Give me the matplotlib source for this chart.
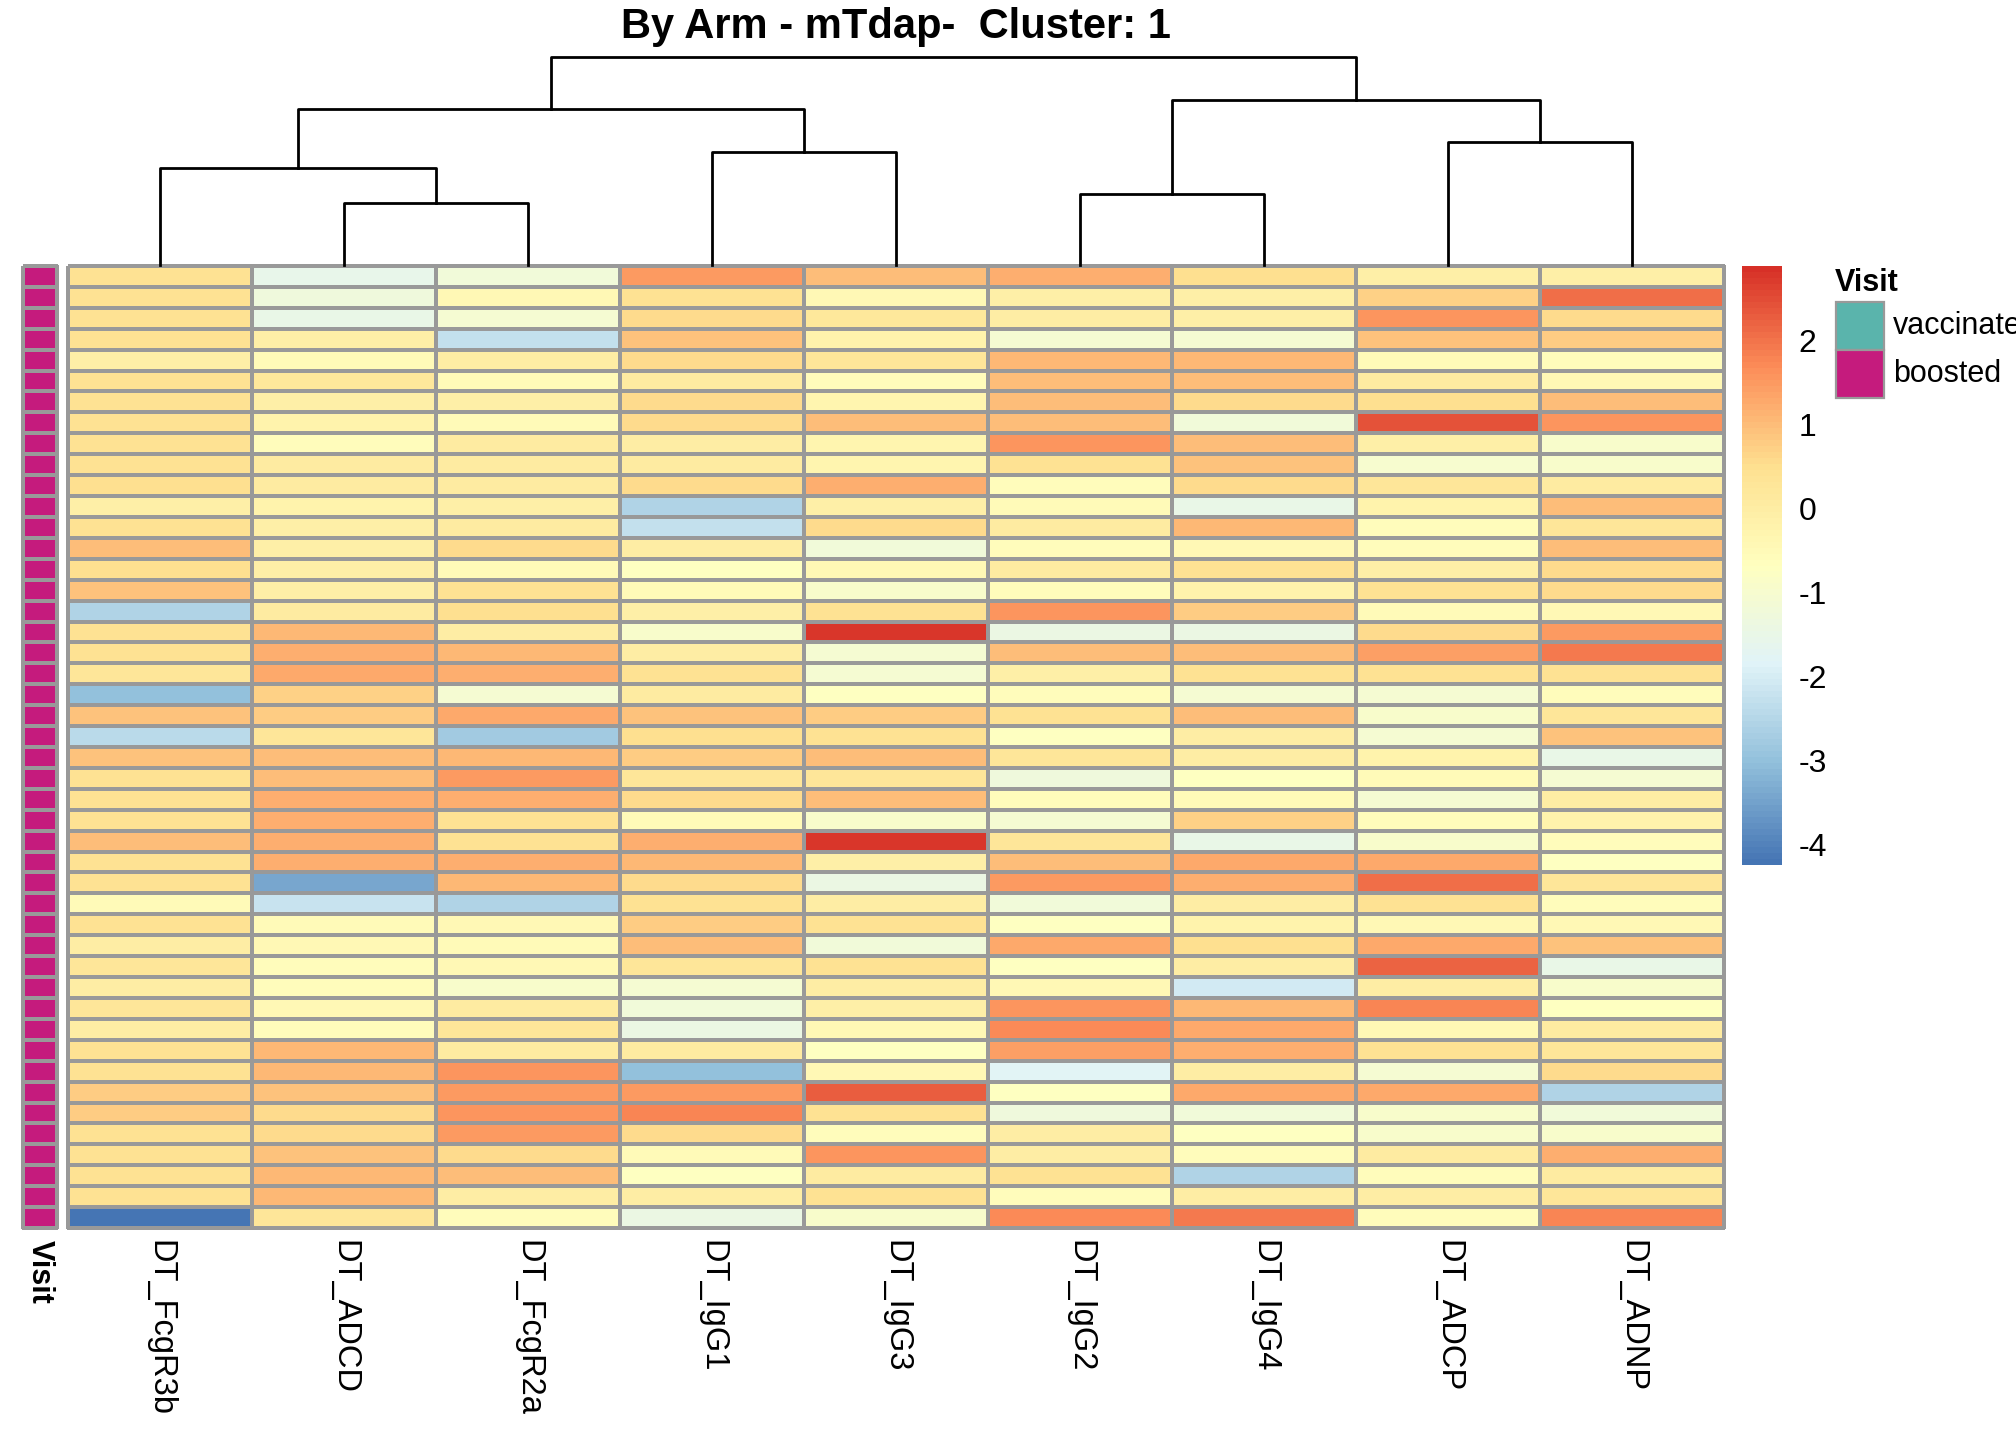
import numpy as np
import matplotlib
matplotlib.use('Agg')
import matplotlib.pyplot as plt
from matplotlib.colors import LinearSegmentedColormap, ListedColormap
from matplotlib.patches import Rectangle

plt.rcParams['font.family'] = ['Liberation Sans', 'DejaVu Sans']
plt.rcParams['axes.unicode_minus'] = False

features = ['DT_FcgR3b', 'DT_ADCD', 'DT_FcgR2a', 'DT_IgG1', 'DT_IgG3',
            'DT_IgG2', 'DT_IgG4', 'DT_ADCP', 'DT_ADNP']

# scaled values, one list per feature, rows top to bottom
fcgr3b = [0.4, 0.45, 0.4, 0.4, -0.1, 0.4, 0.4, 0.4, 0.4, 0.4, 0.5, -0.1, 0.4, 1.0, 0.5,
          0.9, -2.6, 0.4, 0.4, 0.3, -3.0, 0.9, -2.4, 0.9, 0.4, 0.4, 0.4, 1.0, 0.4, 0.4,
          -0.5, 0.4, 0.0, 0.3, 0.0, 0.3, 0.0, 0.4, 0.4, 0.8, 0.8, 0.4, 0.4, 0.4, 0.4, -4.2]
adcd = [-1.6, -1.3, -1.5, -0.1, -0.5, 0.2, -0.1, -0.2, -0.6, 0.1, 0.1, -0.2, -0.1, -0.1, -0.1,
        -0.1, 0.1, 1.1, 1.2, 1.3, 0.7, 0.8, 0.3, 1.0, 1.0, 1.2, 1.2, 1.2, 1.2, -3.4,
        -2.2, -0.5, -0.4, -0.6, -0.6, -0.4, -0.6, 1.1, 1.1, 0.9, 0.6, 0.6, 0.9, 1.1, 1.1, 0.3]
fcgr2a = [-1.2, -0.4, -1.1, -2.3, 0.0, -0.5, -0.1, -0.5, 0.1, 0.1, 0.1, -0.1, 0.1, 0.6, -0.5,
          0.4, 0.5, 0.0, 1.1, 1.2, -1.1, 1.3, -2.8, 1.1, 1.5, 1.2, 0.4, 0.4, 1.2, 1.1,
          -2.6, -0.4, -0.5, -0.4, -0.9, 0.1, 0.3, 0.1, 1.6, 1.5, 1.6, 1.5, 0.6, 1.0, 0.0, -0.6]
igg1 = [1.5, 0.4, 0.6, 0.9, 0.6, 0.1, 0.6, 0.6, 0.0, 0.1, 0.6, -2.6, -2.3, 0.0, -0.7,
        -0.5, -0.1, -0.9, 0.0, 0.4, 0.1, 0.9, 0.5, 0.8, 0.3, 0.6, -0.5, 1.2, 1.1, 0.6,
        0.4, 0.8, 1.0, 0.3, -1.1, -1.2, -1.4, 0.1, -3.0, 1.5, 1.8, 0.6, -0.5, -0.7, 0.0, -1.4]
igg3 = [1.0, -0.4, 0.2, -0.2, 0.3, -0.6, -0.3, 1.0, -0.3, -0.3, 1.2, -0.1, 0.6, -1.2, -0.4,
        -0.9, 0.4, 2.8, -1.1, -1.1, -0.7, 0.8, 0.4, 1.0, 0.3, 1.0, -0.9, 2.8, -0.1, -1.4,
        0.0, 0.4, -1.2, 0.4, 0.0, -0.1, -0.4, -0.7, -0.4, 2.3, 0.4, -0.6, 1.6, 0.1, 0.4, -0.9]
igg2 = [1.2, -0.1, 0.0, -1.1, 1.1, 1.0, 1.0, 1.0, 1.6, 0.4, -0.6, -0.5, 0.1, -0.6, 0.1,
        -0.6, 1.6, -1.4, 1.0, -0.1, -0.6, 0.4, -0.7, 0.3, -1.3, -0.6, -1.1, 0.3, 1.0, 1.5,
        -1.2, -0.7, 1.3, -0.7, -0.4, 1.6, 1.7, 1.4, -1.8, -0.7, -1.3, 0.0, 0.0, 0.4, -0.6, 1.7]
igg4 = [0.5, -0.1, -0.1, -1.1, 1.1, 1.0, 0.6, -1.2, 1.0, 0.9, 0.6, -1.5, 1.1, -0.4, 0.4,
        -0.2, 0.8, -1.4, 1.0, 0.4, -1.1, 1.0, 0.0, 0.0, -0.7, -0.5, 0.7, -1.5, 1.3, 1.2,
        0.0, -0.2, 0.5, 0.0, -2.1, 1.1, 1.3, 1.2, 0.0, 1.3, -1.2, -0.7, -0.6, -2.6, 0.0, 1.9]
adcp = [-0.1, 0.7, 1.6, 0.9, -0.5, 0.1, 0.5, 2.4, -0.1, -1.0, 0.3, -0.2, -0.6, -0.6, -0.1,
        0.4, -0.5, 0.6, 1.4, 0.4, -1.1, -0.9, -1.1, -0.2, -0.5, -1.1, -0.6, -0.9, 1.3, 2.1,
        0.4, -0.4, 1.3, 2.2, 0.0, 1.8, -0.4, 0.4, -1.1, 1.3, -0.9, -0.9, 0.1, -0.6, 0.0, -0.6]
adnp = [-0.1, 2.1, 0.6, 0.8, -0.6, -0.4, 1.0, 1.6, -0.9, -0.9, 0.1, 1.0, 0.3, 1.0, 0.6,
        0.6, -0.4, 1.5, 1.9, 0.4, -0.6, 0.3, 0.9, -1.5, -1.1, 0.0, -0.2, -0.6, -0.7, 0.3,
        -0.6, -0.4, 0.9, -1.5, -0.9, -0.7, 0.1, 0.3, 0.6, -2.6, -1.2, -0.9, 1.2, 0.1, 0.3, 1.8]

visit_levels = ['vaccinated', 'boosted']
visit_colors = ['#5AB4AC', '#C51B7D']
visit = ['boosted'] * 46

# column dendrogram: (left node, right node, height); leaves are 0..8
merges = [(1, 2, 3.1), (5, 6, 3.55), (0, 9, 4.85), (3, 4, 5.65), (7, 8, 6.15),
          (11, 12, 7.8), (10, 13, 8.25), (14, 15, 10.4)]

vmin, vmax = -4.24, 2.89
cb_ticks = [-4, -3, -2, -1, 0, 1, 2]

W, H = 2016, 1440
fig = plt.figure(figsize=(W / 100, H / 100), dpi=100)

def box(x0, y0, x1, y1):
    return [x0 / W, 1 - y1 / H, (x1 - x0) / W, (y1 - y0) / H]

cmap = LinearSegmentedColormap.from_list(
    'rdylbu_r', ['#4575B4', '#91BFDB', '#E0F3F8', '#FFFFBF', '#FEE090', '#FC8D59', '#D73027'], N=100)
grey = '#999999'

mat = np.column_stack([fcgr3b, adcd, fcgr2a, igg1, igg3, igg2, igg4, adcp, adnp])
nrow, ncol = mat.shape

# heatmap
ax = fig.add_axes(box(68, 266, 1724, 1228))
mesh = ax.pcolormesh(mat, cmap=cmap, vmin=vmin, vmax=vmax, edgecolors=grey, linewidth=1.6)
mesh.set_clip_on(False)
ax.set_xlim(0, ncol)
ax.set_ylim(nrow, 0)
for s in ax.spines.values():
    s.set_visible(False)
ax.set_yticks([])
ax.set_xticks(np.arange(ncol) + 0.5)
ax.set_xticklabels(features, rotation=-90, fontsize=23.5, va='top', ha='center')
ax.tick_params(axis='x', length=0, pad=9)

# annotation column
ax_a = fig.add_axes(box(23, 266, 57, 1228))
vidx = np.array([visit_levels.index(v) for v in visit]).reshape(-1, 1)
am = ax_a.pcolormesh(vidx, cmap=ListedColormap(visit_colors), vmin=-0.5, vmax=1.5,
                     edgecolors=grey, linewidth=1.6)
am.set_clip_on(False)
ax_a.set_xlim(0, 1)
ax_a.set_ylim(nrow, 0)
for s in ax_a.spines.values():
    s.set_visible(False)
ax_a.set_yticks([])
ax_a.set_xticks([0.5])
ax_a.set_xticklabels(['Visit'], rotation=-90, fontsize=22, fontweight='bold', va='top', ha='center')
ax_a.tick_params(axis='x', length=0, pad=9)

# dendrogram
ax_d = fig.add_axes(box(68, 57, 1724, 265))
xpos = {i: i + 0.5 for i in range(ncol)}
hgt = {i: 0.0 for i in range(ncol)}
for k, (a, b, h) in enumerate(merges):
    node = ncol + k
    ax_d.plot([xpos[a], xpos[a], xpos[b], xpos[b]], [hgt[a], h, h, hgt[b]],
              color='black', lw=2, clip_on=False)
    xpos[node] = (xpos[a] + xpos[b]) / 2
    hgt[node] = h
ax_d.set_xlim(0, ncol)
ax_d.set_ylim(0, merges[-1][2])
ax_d.axis('off')

# colour key
cax = fig.add_axes(box(1742, 266, 1782, 865))
cb = fig.colorbar(mesh, cax=cax, ticks=cb_ticks)
cb.outline.set_visible(False)
cax.tick_params(length=0, pad=12, labelsize=23)

# title
fig.text(896 / W, 1 - 38 / H, 'By Arm - mTdap-  Cluster: 1', ha='center', va='baseline',
         fontsize=30, fontweight='bold')

# visit legend (the reference cuts "vaccinated" at the right edge)
ax_l = fig.add_axes([0, 0, 1, 1], zorder=-1)
ax_l.set_xlim(0, W)
ax_l.set_ylim(H, 0)
ax_l.axis('off')
ax_l.text(1835, 291, 'Visit', fontsize=22, fontweight='bold', va='baseline', ha='left')
for i, (lev, col) in enumerate(zip(visit_levels, visit_colors)):
    y0 = 302 + 48 * i
    ax_l.add_patch(Rectangle((1836, y0), 48, 48, facecolor=col, edgecolor=grey, lw=1.6))
    ax_l.text(1893, y0 + 24, lev, fontsize=22, va='center', ha='left')

fig.savefig('out.png', dpi=100)
